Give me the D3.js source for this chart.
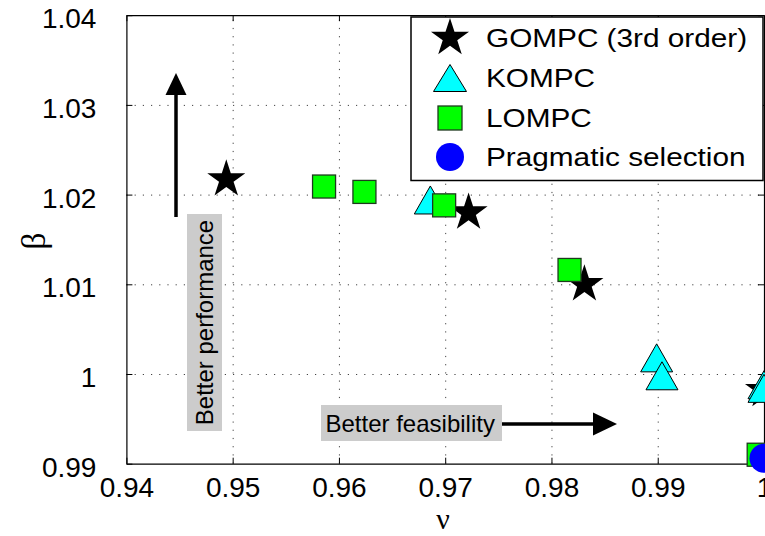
<!DOCTYPE html>
<html><head><meta charset="utf-8">
<script src="https://cdn.jsdelivr.net/npm/d3@7"></script>
<style>
body{margin:0;background:#fff}
text{font-family:"Liberation Sans",Arial,Helvetica,sans-serif;fill:#000}
</style>
</head><body>
<svg id="chart" width="765" height="536"></svg>
<script>
// ---- data ----
const xTicks = [0.94, 0.95, 0.96, 0.97, 0.98, 0.99, 1.00];
const xTickLabels = ["0.94", "0.95", "0.96", "0.97", "0.98", "0.99", "1"];
const yTicks = [0.99, 1.00, 1.01, 1.02, 1.03, 1.04];
const yTickLabels = ["0.99", "1", "1.01", "1.02", "1.03", "1.04"];
const seriesNames = ["GOMPC (3rd order)", "KOMPC", "LOMPC", "Pragmatic selection"];

const gompcNu   = [0.9494, 0.9722, 0.9831, 1.0000];
const gompcBeta = [1.0217, 1.0180, 1.0100, 0.9982];

const kompcNu   = [0.9686, 0.9899, 0.9904, 1.0000, 1.0000];
const kompcBeta = [1.0194, 1.0018, 0.9998, 0.9988, 0.9984];

const lompcNu   = [0.9586, 0.9624, 0.9699, 0.9817, 0.9995];
const lompcBeta = [1.0209, 1.0203, 1.0188, 1.0116, 0.9910];

const pragNu   = [1.0000];
const pragBeta = [0.9906];

const xLabel = "ν";
const yLabel = "β";
const annPerf = "Better performance";
const annFeas = "Better feasibility";

// ---- layout ----
const svg = d3.select("#chart");
const L = 126.4, R = 764, T = 15.2, B = 463.7;
const x = d3.scaleLinear().domain([0.94, 1.0]).range([L, R]);
const y = d3.scaleLinear().domain([0.99, 1.04]).range([B, T]);

// grid
const gridStyle = g => g.selectAll("line").attr("stroke", "#444").attr("stroke-width", 1).attr("stroke-dasharray", "1.2,7");
svg.append("g").attr("transform", `translate(0,${B})`)
  .call(d3.axisBottom(x).tickValues(xTicks.slice(1, -1)).tickSize(-(B - T)).tickFormat(""))
  .call(g => g.select(".domain").remove()).call(gridStyle);
svg.append("g").attr("transform", `translate(${L},0)`)
  .call(d3.axisLeft(y).tickValues(yTicks.slice(1, -1)).tickSize(-(R - L)).tickFormat(""))
  .call(g => g.select(".domain").remove()).call(gridStyle);

// axes
const axStyle = g => {
  g.select(".domain").attr("stroke", "#000").attr("stroke-width", 1.2);
  g.selectAll(".tick line").attr("stroke", "#000").attr("stroke-width", 1);
  g.selectAll("text").attr("font-size", 28).attr("font-family", "Liberation Sans, Arial, sans-serif").attr("fill", "#000");
};
svg.append("g").attr("transform", `translate(0,${B})`)
  .call(d3.axisBottom(x).tickValues(xTicks).tickFormat((d, i) => xTickLabels[i]).tickSizeInner(-6).tickSizeOuter(0).tickPadding(13))
  .call(axStyle);
svg.append("g").attr("transform", `translate(0,${T})`)
  .call(d3.axisTop(x).tickValues(xTicks).tickFormat("").tickSizeInner(-6).tickSizeOuter(0))
  .call(axStyle);
svg.append("g").attr("transform", `translate(${L},0)`)
  .call(d3.axisLeft(y).tickValues(yTicks).tickFormat((d, i) => yTickLabels[i]).tickSizeInner(-6).tickSizeOuter(0).tickPadding(30))
  .call(axStyle)
  .call(g => g.selectAll("text").attr("dy", "0.45em"));
svg.append("g").attr("transform", `translate(${R},0)`)
  .call(d3.axisRight(y).tickValues(yTicks).tickFormat("").tickSizeInner(-6).tickSizeOuter(0))
  .call(axStyle);

// axis labels
svg.append("text").attr("x", 443).attr("y", 529).attr("text-anchor", "middle")
  .attr("font-size", 30).style("font-family", "Liberation Serif, Times New Roman, serif").text(xLabel);
svg.append("text").attr("transform", "translate(45,241) rotate(-90)").attr("text-anchor", "middle")
  .attr("font-size", 34).style("font-family", "Liberation Serif, Times New Roman, serif").text(yLabel);

// annotations
svg.append("rect").attr("x", 187).attr("y", 214).attr("width", 35).attr("height", 217).attr("fill", "#cccccc");
svg.append("text").attr("transform", "translate(213,322.5) rotate(-90)").attr("text-anchor", "middle")
  .attr("font-size", 24).text(annPerf);
svg.append("line").attr("x1", 176).attr("y1", 217).attr("x2", 176).attr("y2", 93)
  .attr("stroke", "#000").attr("stroke-width", 3.5);
svg.append("path").attr("d", "M176,73 L165.5,95 L186.5,95 Z").attr("fill", "#000");

svg.append("rect").attr("x", 321).attr("y", 405).attr("width", 181).attr("height", 36).attr("fill", "#cccccc");
svg.append("text").attr("x", 325.5).attr("y", 432).attr("font-size", 24).text(annFeas);
svg.append("line").attr("x1", 502).attr("y1", 424).attr("x2", 596).attr("y2", 424)
  .attr("stroke", "#000").attr("stroke-width", 3.5);
svg.append("path").attr("d", "M617,424 L593,412.5 L593,435.5 Z").attr("fill", "#000");

// markers
function starPath(Ro) {
  const ri = Ro * 0.382, pts = [];
  for (let i = 0; i < 10; i++) {
    const a = -Math.PI / 2 + i * Math.PI / 5, r = i % 2 ? ri : Ro;
    pts.push([r * Math.cos(a), r * Math.sin(a)]);
  }
  return "M" + pts.map(p => p.join(",")).join("L") + "Z";
}
const triPath = (w, h) => `M0,${-h / 2}L${w / 2},${h / 2}L${-w / 2},${h / 2}Z`;

const drawStar = (g) => g.append("path").attr("d", starPath(20)).attr("fill", "#000");
const drawTri = (g) => g.append("path").attr("d", triPath(32, 28)).attr("fill", "#00ffff").attr("stroke", "#000").attr("stroke-width", 1);
const drawSq = (g) => g.append("rect").attr("x", -11.5).attr("y", -11.5).attr("width", 23).attr("height", 23)
  .attr("fill", "#00ff00").attr("stroke", "#1e3a1e").attr("stroke-width", 1.3);
const drawCirc = (g) => g.append("circle").attr("r", 14.5).attr("fill", "#0000ff");

const series = [
  [gompcNu, gompcBeta, drawStar],
  [kompcNu, kompcBeta, drawTri],
  [lompcNu, lompcBeta, drawSq],
  [pragNu, pragBeta, drawCirc]
];
series.forEach(([nu, be, draw]) => {
  nu.forEach((v, i) => {
    const g = svg.append("g").attr("transform", `translate(${x(v)},${y(be[i])})`);
    draw(g);
  });
});

// legend
const leg = svg.append("g");
leg.append("rect").attr("x", 411).attr("y", 17).attr("width", 352).attr("height", 163.5)
  .attr("fill", "#fff").attr("stroke", "#000").attr("stroke-width", 1.5);
const legY = [38, 78, 118, 157];
const legDraw = [
  g => g.append("path").attr("d", starPath(20)).attr("fill", "#000"),
  g => g.append("path").attr("d", triPath(33, 27)).attr("fill", "#00ffff").attr("stroke", "#000").attr("stroke-width", 1),
  g => g.append("rect").attr("x", -12).attr("y", -12).attr("width", 24).attr("height", 24).attr("fill", "#00ff00").attr("stroke", "#1e3a1e").attr("stroke-width", 1.3),
  g => g.append("circle").attr("r", 14).attr("fill", "#0000ff")
];
seriesNames.forEach((name, i) => {
  legDraw[i](leg.append("g").attr("transform", `translate(450,${legY[i]})`));
  leg.append("text").attr("transform", `translate(486,${legY[i] + 8.8}) scale(1.19,1)`)
    .attr("font-size", 25).text(name);
});
</script>
</body></html>
